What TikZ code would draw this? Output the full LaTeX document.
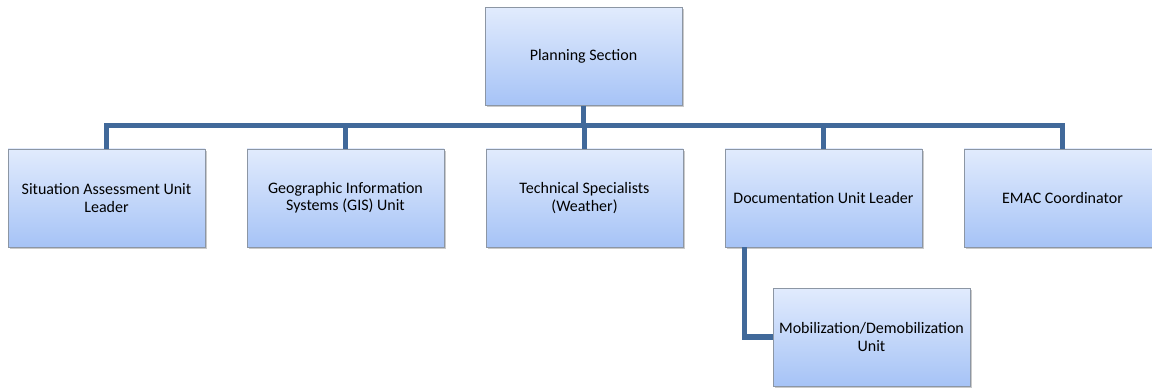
\documentclass[tikz,border=0pt]{standalone}
\usepackage{fontspec}
\setmainfont{Carlito}
\usetikzlibrary{shadows}

\definecolor{boxtop}{HTML}{E1EBFD}
\definecolor{boxbottom}{HTML}{A6C3F6}
\definecolor{boxline}{HTML}{8C96A4}
\definecolor{linkblue}{HTML}{41699A}

\tikzset{
    unit/.style = {
        draw=boxline,
        line width=0.5pt,
        rectangle,
        top color=boxtop,
        bottom color=boxbottom,
        minimum width=147.75pt,
        minimum height=73.5pt,
        align=center,
        font=\fontsize{12}{13}\selectfont,
        drop shadow={shadow xshift=1.2pt, shadow yshift=-1.2pt, opacity=0.35, fill=black!60}
    },
    link/.style = {
        line width=3.8pt,
        linkblue
    }
}

\begin{document}
\begin{tikzpicture}[x=0.75pt, y=-0.75pt]
    \useasboundingbox (0,0) rectangle (1152,388);

    % Draw all units
    \node[unit] (plan) at (583.5,56.5) {Planning Section};
    \node[unit] (sit)  at (106.5,198) {Situation Assessment Unit\\Leader};
    \node[unit] (gis)  at (345.5,198) {Geographic Information\\Systems (GIS) Unit};
    \node[unit] (tech) at (584.5,198) {Technical Specialists\\(Weather)};
    \node[unit] (doc)  at (823.5,198) {Documentation Unit Leader};
    \node[unit] (emac) at (1062.5,198) {EMAC Coordinator};
    \node[unit] (mob)  at (871.5,337) {Mobilization/Demobilization\\Unit};

    % Draw connectors
    \draw[link] (plan.south) -- ++(0,20) coordinate (bus);
    \draw[link] (bus) -| (sit.north);
    \draw[link] (bus) -| (gis.north);
    \draw[link] (bus) -| (tech.north);
    \draw[link] (bus) -| (doc.north);
    \draw[link] (bus) -| (emac.north);
    %
    \draw[link] ([xshift=15pt]doc.south west) |- (mob.west);
\end{tikzpicture}
\end{document}
